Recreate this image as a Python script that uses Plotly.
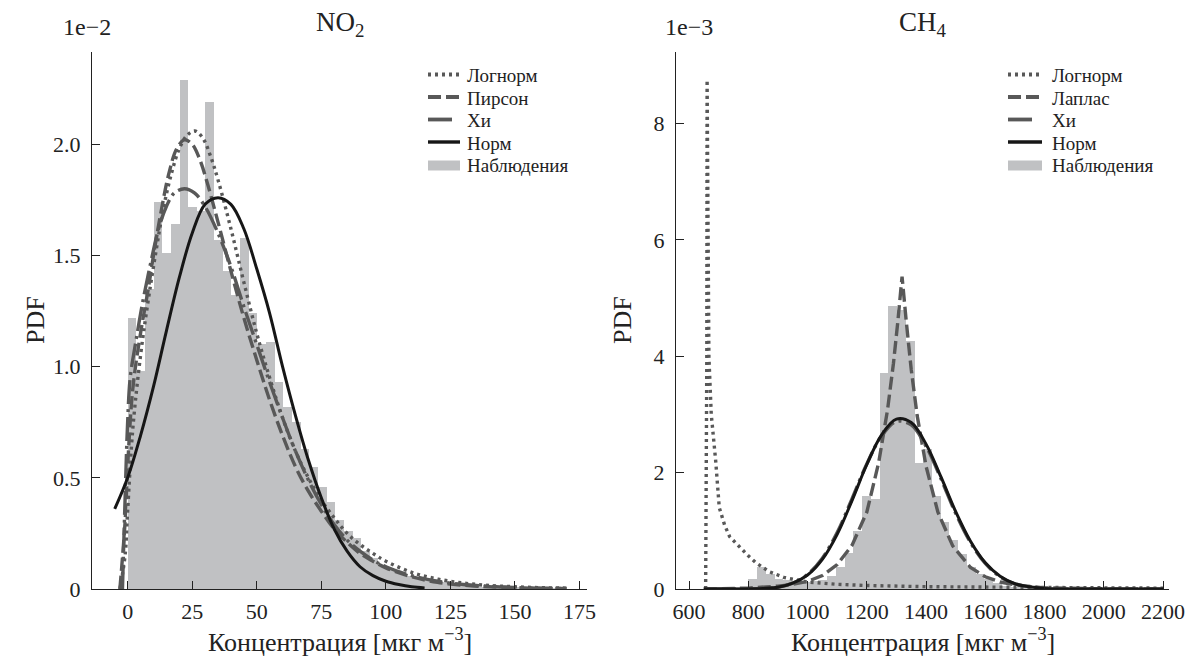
import plotly.graph_objects as go

W, H = 1191, 659

# ---------------- data (PDF values in units shown on the axes) ----------------
# NO2 histogram (x 1e-2), bins start at 0 with width 3.35
no2_bin_start = 0.0
no2_bin_width = 3.35
no2_hist = [1.22, 0.98, 1.35, 1.74, 1.51, 1.64, 2.29, 1.72, 1.70, 2.19,
            1.57, 1.43, 1.32, 1.58, 1.24, 1.10, 1.11, 0.93, 0.82, 0.75,
            0.63, 0.55, 0.46, 0.39, 0.31, 0.26, 0.23, 0.17, 0.14, 0.11,
            0.09, 0.075, 0.06, 0.05, 0.04, 0.035, 0.03, 0.025, 0.02, 0.016,
            0.013, 0.011, 0.009, 0.007, 0.006, 0.005, 0.004, 0.003, 0.002, 0.002]

no2_lognorm_x = [-3, -1, 0, 2, 5, 8, 11, 14, 17, 20, 23, 26, 29, 32, 35, 40, 45, 50, 55, 60,
                 65, 70, 75, 80, 85, 90, 95, 100, 110, 120, 130, 140, 150, 160, 170]
no2_lognorm_y = [0.0, 0.15, 0.35, 0.72, 1.05, 1.30, 1.52, 1.72, 1.87, 1.98, 2.04, 2.06, 2.03, 1.95, 1.84,
                 1.62, 1.38, 1.15, 0.95, 0.77, 0.62, 0.50, 0.40, 0.32, 0.25, 0.20, 0.16, 0.125, 0.075,
                 0.045, 0.027, 0.016, 0.010, 0.006, 0.004]

no2_pirson_x = [-3, -1, 0, 2, 5, 8, 10, 13, 16, 19, 22, 25, 28, 31, 35, 40, 45, 50, 55, 60,
                65, 70, 75, 80, 85, 90, 95, 100, 110, 120, 130, 140, 150, 160, 170]
no2_pirson_y = [0.0, 0.30, 0.55, 0.90, 1.15, 1.35, 1.50, 1.70, 1.87, 1.98, 2.02, 2.00, 1.93, 1.82, 1.65,
                1.43, 1.22, 1.03, 0.85, 0.69, 0.55, 0.44, 0.35, 0.27, 0.21, 0.16, 0.125, 0.095, 0.055,
                0.03, 0.017, 0.010, 0.006, 0.003, 0.002]

no2_chi_x = [-2, -1, 0, 1, 3, 6, 9, 12, 15, 18, 22, 26, 30, 35, 40, 45, 50, 55, 60,
             65, 70, 75, 80, 85, 90, 95, 100, 110, 120, 130, 140, 150, 160, 170]
no2_chi_y = [0.0, 0.40, 0.75, 0.95, 1.10, 1.30, 1.47, 1.62, 1.72, 1.78, 1.80, 1.78, 1.72, 1.60,
             1.45, 1.27, 1.10, 0.93, 0.77, 0.62, 0.49, 0.38, 0.29, 0.22, 0.17, 0.13, 0.10, 0.06,
             0.035, 0.02, 0.012, 0.007, 0.004, 0.002]

no2_norm_x = [-5, 0, 5, 10, 15, 20, 25, 30, 35, 40, 45, 50, 55, 60, 65, 70, 75, 80, 85,
              90, 95, 100, 105, 110, 115]
no2_norm_y = [0.36, 0.50, 0.69, 0.91, 1.16, 1.40, 1.60, 1.73, 1.76, 1.73, 1.62, 1.44, 1.24,
              1.00, 0.78, 0.58, 0.41, 0.27, 0.17, 0.10, 0.06, 0.035, 0.02, 0.01, 0.005]

# CH4 histogram (x 1e-3), bins start at 653 with width 29.5
ch4_bin_start = 653.0
ch4_bin_width = 29.5
ch4_hist = [0.01, 0.02, 0.02, 0.03, 0.04, 0.18, 0.37, 0.25, 0.18, 0.15,
            0.12, 0.12, 0.13, 0.16, 0.22, 0.38, 0.62, 1.00, 1.60, 1.54,
            3.72, 4.86, 4.80, 4.26, 2.17, 2.40, 1.60, 1.15, 0.85, 0.60,
            0.38, 0.25, 0.17, 0.10, 0.06, 0.04, 0.03, 0.02, 0.02, 0.015,
            0.01, 0.01, 0.008, 0.005, 0.005, 0.003, 0.003, 0.002, 0.002, 0.001, 0.001, 0.001]

ch4_lognorm_x = [656, 660, 661, 663, 667, 675, 690, 702, 720, 737, 760, 779, 800, 826, 870, 920,
                 1000, 1100, 1200, 1400, 1600, 1800, 2000, 2200]
ch4_lognorm_y = [0.0, 4.0, 8.75, 6.0, 4.0, 3.0, 2.2, 1.4, 1.1, 0.9, 0.78, 0.67, 0.57, 0.45, 0.30,
                 0.20, 0.12, 0.08, 0.06, 0.04, 0.03, 0.02, 0.02, 0.015]

ch4_laplace_x = [650, 800, 900, 950, 1000, 1050, 1100, 1150, 1200, 1240, 1270, 1290, 1305, 1319,
                 1333, 1350, 1370, 1400, 1440, 1490, 1550, 1600, 1650, 1700, 1800, 1900, 2000, 2200]
ch4_laplace_y = [0.0, 0.015, 0.05, 0.08, 0.13, 0.23, 0.42, 0.75, 1.32, 2.17, 3.08, 3.88, 4.61, 5.37,
                 4.61, 3.77, 2.98, 2.11, 1.32, 0.74, 0.37, 0.21, 0.12, 0.07, 0.02, 0.01, 0.003, 0.0]

ch4_chi_x = [650, 850, 900, 950, 1000, 1050, 1100, 1150, 1200, 1250, 1300, 1350, 1400, 1450,
             1500, 1550, 1600, 1650, 1700, 1800, 1900, 2000, 2200]
ch4_chi_y = [0.0, 0.01, 0.03, 0.10, 0.25, 0.53, 0.97, 1.55, 2.15, 2.63, 2.88, 2.82, 2.45, 1.90,
             1.30, 0.80, 0.44, 0.21, 0.09, 0.01, 0.001, 0.0, 0.0]

ch4_norm_x = [650, 850, 900, 950, 1000, 1050, 1100, 1150, 1200, 1250, 1300, 1350, 1400, 1450,
              1500, 1550, 1600, 1650, 1700, 1800, 1900, 2000, 2200]
ch4_norm_y = [0.0, 0.01, 0.03, 0.10, 0.24, 0.51, 0.94, 1.52, 2.14, 2.65, 2.92, 2.86, 2.49, 1.93,
              1.33, 0.82, 0.45, 0.22, 0.09, 0.01, 0.001, 0.0, 0.0]

no2_xticks = [0, 25, 50, 75, 100, 125, 150, 175]
no2_yticks = [0, 0.5, 1.0, 1.5, 2.0]
no2_ytext = ["0", "0.5", "1.0", "1.5", "2.0"]
ch4_xticks = [600, 800, 1000, 1200, 1400, 1600, 1800, 2000, 2200]
ch4_yticks = [0, 2, 4, 6, 8]

left_names = ["Логнорм", "Пирсон", "Хи", "Норм", "Наблюдения"]
right_names = ["Логнорм", "Лаплас", "Хи", "Норм", "Наблюдения"]

# ---------------- styling ----------------
FONT = "Liberation Serif"
TXT = "#222222"
HIST_C = "#c0c1c3"
GRAY = "#585858"
BLACK = "#161616"
DOT = "3px,4px"
DASH = "13px,5px"
DASHDOT = "24px,5px,3px,5px"
STYLES = [(GRAY, DOT, 3.4), (GRAY, DASH, 3.4), (GRAY, DASHDOT, 3.4), (BLACK, "solid", 3.0)]


def fx(px):
    return px / W


def fy(py):
    return 1 - py / H


fig = go.Figure()


def add_panel(xa, ya, start, width, hist, curves, names, shapes_kind):
    edges = [start + i * width for i in range(len(hist))]
    fig.add_trace(go.Bar(x=edges, y=hist, width=[width] * len(hist), offset=0,
                         marker=dict(color=HIST_C, line=dict(width=0)), name=names[4],
                         xaxis=xa, yaxis=ya, showlegend=False, hoverinfo="skip"))
    for (cx, cy), nm, (col, dash, w), shp in zip(curves, names[:4], STYLES, shapes_kind):
        fig.add_trace(go.Scatter(x=cx, y=cy, mode="lines", name=nm, showlegend=False,
                                 line=dict(color=col, dash=dash, width=w, shape=shp),
                                 xaxis=xa, yaxis=ya))


add_panel("x", "y", no2_bin_start, no2_bin_width, no2_hist,
          [(no2_lognorm_x, no2_lognorm_y), (no2_pirson_x, no2_pirson_y),
           (no2_chi_x, no2_chi_y), (no2_norm_x, no2_norm_y)], left_names,
          ["spline", "spline", "spline", "spline"])
add_panel("x2", "y2", ch4_bin_start, ch4_bin_width, ch4_hist,
          [(ch4_lognorm_x, ch4_lognorm_y), (ch4_laplace_x, ch4_laplace_y),
           (ch4_chi_x, ch4_chi_y), (ch4_norm_x, ch4_norm_y)], right_names,
          ["linear", "linear", "spline", "spline"])

axis_common = dict(showline=True, linecolor=TXT, linewidth=1.3, ticks="inside",
                   ticklen=8, tickwidth=1.2, tickcolor=TXT, showgrid=False,
                   zeroline=False, mirror=False,
                   tickfont=dict(family=FONT, size=22, color=TXT))

L_X0, L_X1 = 92, 587
R_X0, R_X1 = 676, 1169
Y_TOP, Y_BOT = 52, 589

fig.update_layout(
    width=W, height=H, margin=dict(l=0, r=0, t=0, b=0, autoexpand=False),
    plot_bgcolor="white", paper_bgcolor="white", barmode="overlay", bargap=0,
    showlegend=False,
    xaxis=dict(domain=[fx(L_X0), fx(L_X1)], range=[-13.8, 177.9], tickvals=no2_xticks,
               ticklabelstandoff=2, anchor="y", **axis_common),
    yaxis=dict(domain=[fy(Y_BOT), fy(Y_TOP)], range=[0, 2.415], tickvals=no2_yticks,
               ticktext=no2_ytext, ticklabelstandoff=6, anchor="x", **axis_common),
    xaxis2=dict(domain=[fx(R_X0), fx(R_X1)], range=[556, 2220], tickvals=ch4_xticks,
                ticklabelstandoff=2, anchor="y2", **axis_common),
    yaxis2=dict(domain=[fy(Y_BOT), fy(Y_TOP)], range=[0, 9.23], tickvals=ch4_yticks,
                ticklabelstandoff=6, anchor="x2", **axis_common),
)

# ---------------- legends (drawn in paper space) ----------------
def add_legend(line_x0, line_x1, text_x, rows_y, names):
    for i, (nm, y) in enumerate(zip(names, rows_y)):
        if i < 4:
            col, dash, w = STYLES[i]
            x1 = line_x1 if i != 2 else line_x0 + 24
            fig.add_shape(type="line", xref="paper", yref="paper",
                          x0=fx(line_x0), x1=fx(x1), y0=fy(y - 1), y1=fy(y - 1),
                          line=dict(color=col, width=w + 0.4, dash=dash))
        else:
            fig.add_shape(type="rect", xref="paper", yref="paper",
                          x0=fx(line_x0), x1=fx(line_x1), y0=fy(y - 5), y1=fy(y + 5),
                          line=dict(width=0), fillcolor=HIST_C)
        fig.add_annotation(text=nm, xref="paper", yref="paper", x=fx(text_x), y=fy(y),
                           xanchor="left", yanchor="middle", showarrow=False,
                           font=dict(family=FONT, size=19, color=TXT))


legend_rows = [75.5, 98, 120.5, 143, 165.5]
add_legend(428, 460, 465, legend_rows, left_names)
add_legend(1008, 1042, 1050, legend_rows, right_names)

ann = [
    dict(text="NO<sub>2</sub>", x=fx((L_X0 + L_X1) / 2), y=fy(24), size=27),
    dict(text="CH<sub>4</sub>", x=fx((R_X0 + R_X1) / 2), y=fy(24), size=27),
    dict(text="1e\u22122", x=fx(87), y=fy(27), size=24),
    dict(text="1e\u22123", x=fx(689), y=fy(27), size=24),
    dict(text="PDF", x=fx(35), y=fy(320), size=26, textangle=-90),
    dict(text="PDF", x=fx(622), y=fy(320), size=26, textangle=-90),
    dict(text="Концентрация [мкг м<sup>\u22123</sup>]", x=fx((L_X0 + L_X1) / 2), y=fy(640), size=26),
    dict(text="Концентрация [мкг м<sup>\u22123</sup>]", x=fx((R_X0 + R_X1) / 2), y=fy(640), size=26),
]
for a in ann:
    size = a.pop("size")
    fig.add_annotation(xref="paper", yref="paper", showarrow=False, xanchor="center",
                       yanchor="middle", font=dict(family=FONT, size=size, color=TXT), **a)

fig.write_html("out.html", config={"displayModeBar": False},
               post_script="document.body.style.margin='0';document.body.style.padding='0';")
